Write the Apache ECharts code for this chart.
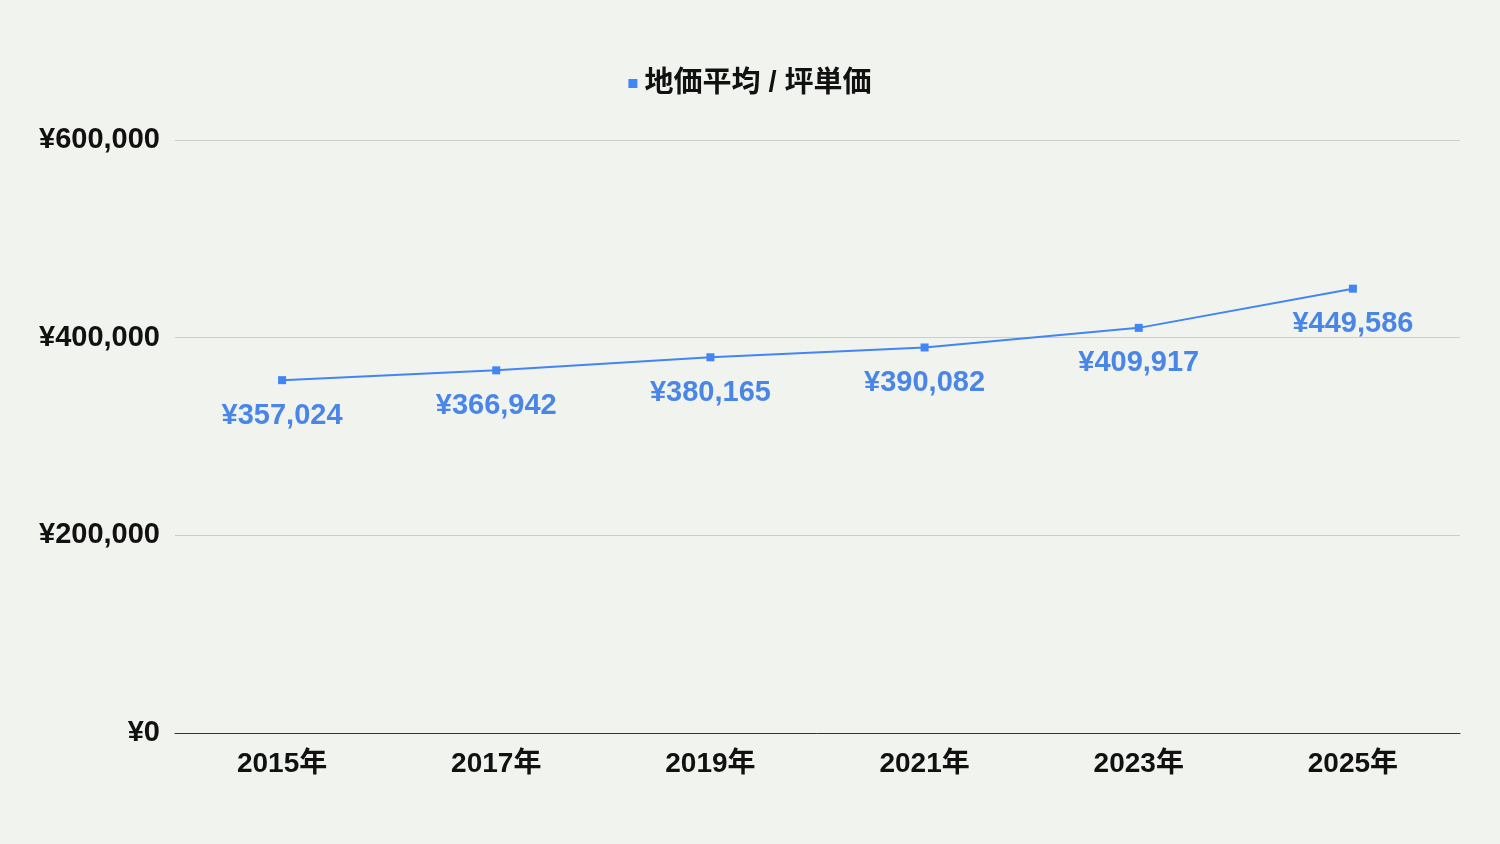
<!DOCTYPE html>
<html>
<head>
<meta charset="utf-8">
<script src="https://cdn.jsdelivr.net/npm/echarts@6/dist/echarts.min.js"></script>
<style>
  html, body { margin: 0; padding: 0; background: #f1f3ee; }
  #main { width: 1500px; height: 844px; }
</style>
</head>
<body>
<div id="main"></div>
<script>
const years = ['2015年', '2017年', '2019年', '2021年', '2023年', '2025年']
const avgPrice = [357024, 366942, 380165, 390082, 409917, 449586]
const seriesName = '地価平均 / 坪単価'

const fontFamily = '"Liberation Sans", Arial, "Noto Sans CJK JP", sans-serif'
const yen = v => '¥' + v.toLocaleString('en-US')

const myChart = echarts.init(document.getElementById('main'))

const option = {
  backgroundColor: '#f1f3ee',
  textStyle: { fontFamily: fontFamily },
  legend: {
    top: 64,
    left: 'center',
    icon: 'rect',
    itemWidth: 9,
    itemHeight: 9,
    itemGap: 10,
    textStyle: { fontSize: 29, fontWeight: 'bold', color: '#111', fontFamily: fontFamily, padding: [0, 0, 0, 2] },
    data: [seriesName]
  },
  grid: { left: 175, right: 40, top: 140, bottom: 111, containLabel: false },
  xAxis: {
    type: 'category',
    data: years,
    boundaryGap: true,
    axisLine: { lineStyle: { color: '#333', width: 1 } },
    axisTick: { show: false },
    axisLabel: { fontSize: 28, fontWeight: 'bold', color: '#111', margin: 17, fontFamily: fontFamily }
  },
  yAxis: {
    type: 'value',
    min: 0,
    max: 600000,
    interval: 200000,
    axisLine: { show: false },
    axisTick: { show: false },
    splitLine: { lineStyle: { color: '#cccccc', width: 1 } },
    axisLabel: {
      fontSize: 29, fontWeight: 'bold', color: '#111', margin: 15, fontFamily: fontFamily,
      padding: [6, 0, 0, 0],
      formatter: v => yen(v)
    }
  },
  series: [{
    name: seriesName,
    type: 'line',
    data: avgPrice,
    color: '#4285f4',
    symbol: 'rect',
    symbolSize: 8,
    lineStyle: { width: 2, color: '#4285f4' },
    itemStyle: { color: '#4285f4' },
    label: {
      show: true,
      position: 'bottom',
      distance: 17,
      fontSize: 29,
      fontWeight: 'bold',
      color: '#4a86e8',
      fontFamily: fontFamily,
      formatter: p => yen(p.value)
    }
  }]
}

myChart.setOption(option)
</script>
</body>
</html>
